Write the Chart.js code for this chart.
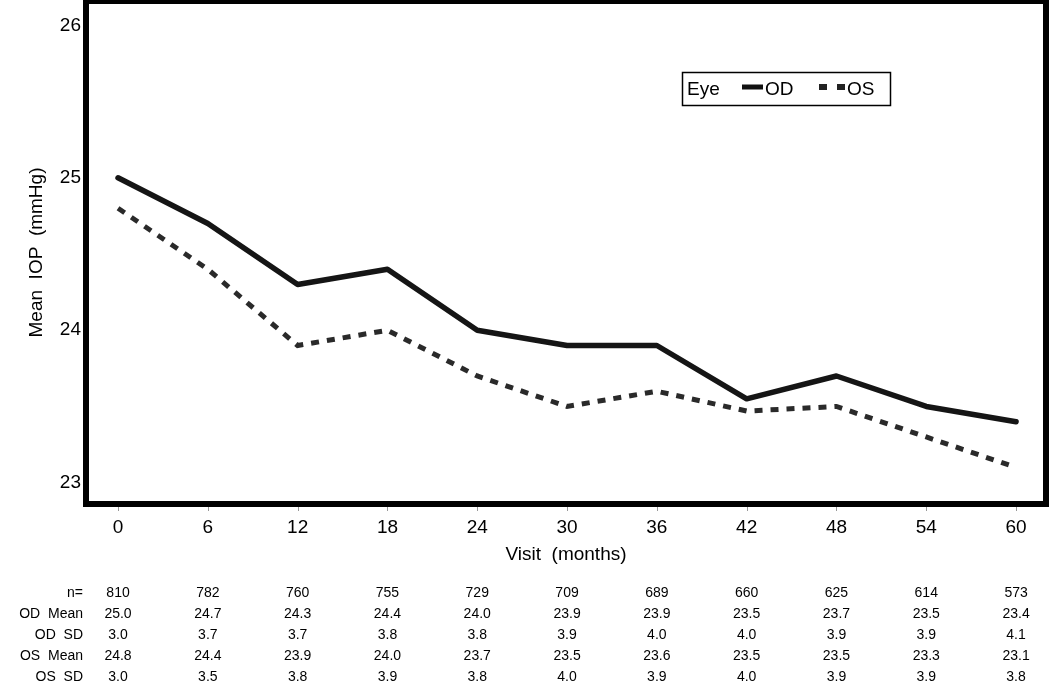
<!DOCTYPE html>
<html>
<head>
<meta charset="utf-8">
<script src="https://cdn.jsdelivr.net/npm/chart.js@4.4.1/dist/chart.umd.min.js"></script>
<style>
  html, body { margin: 0; padding: 0; background: #fff; }
  canvas { display: block; }
</style>
</head>
<body>
<canvas id="c" width="1050" height="700"></canvas>
<script>
// ---- data ----
const visits = [0, 6, 12, 18, 24, 30, 36, 42, 48, 54, 60];
const odMean = [25.0, 24.7, 24.3, 24.4, 24.0, 23.9, 23.9, 23.55, 23.7, 23.5, 23.4];
const osMean = [24.8, 24.4, 23.9, 24.0, 23.7, 23.5, 23.6, 23.47, 23.5, 23.3, 23.1];
const yTicks = [23, 24, 25, 26];

const tableLabels = ['n=', 'OD  Mean', 'OD  SD', 'OS  Mean', 'OS  SD'];
const nRow      = ['810', '782', '760', '755', '729', '709', '689', '660', '625', '614', '573'];
const odMeanRow = ['25.0', '24.7', '24.3', '24.4', '24.0', '23.9', '23.9', '23.5', '23.7', '23.5', '23.4'];
const odSdRow   = ['3.0', '3.7', '3.7', '3.8', '3.8', '3.9', '4.0', '4.0', '3.9', '3.9', '4.1'];
const osMeanRow = ['24.8', '24.4', '23.9', '24.0', '23.7', '23.5', '23.6', '23.5', '23.5', '23.3', '23.1'];
const osSdRow   = ['3.0', '3.5', '3.8', '3.9', '3.8', '4.0', '3.9', '4.0', '3.9', '3.9', '3.8'];
const tableRows = [nRow, odMeanRow, odSdRow, osMeanRow, osSdRow];

const FONT = "'Liberation Sans', Arial, Helvetica, sans-serif";

const overlay = {
  id: 'overlay',
  afterDraw(chart) {
    const ctx = chart.ctx;
    const a = chart.chartArea;
    const xs = chart.scales.x;
    ctx.save();
    // frame
    ctx.strokeStyle = '#000';
    ctx.lineWidth = 6;
    ctx.strokeRect(a.left - 3, a.top - 3, (a.right - a.left) + 6, (a.bottom - a.top) + 6);
    // small x tick marks
    ctx.strokeStyle = '#999';
    ctx.lineWidth = 1;
    visits.forEach(v => {
      const px = Math.round(xs.getPixelForValue(v)) + 0.5;
      ctx.beginPath(); ctx.moveTo(px, a.bottom + 6); ctx.lineTo(px, a.bottom + 10); ctx.stroke();
    });
    // axis titles
    ctx.fillStyle = '#000';
    ctx.font = '19px ' + FONT;
    ctx.textAlign = 'center';
    ctx.textBaseline = 'middle';
    ctx.fillText('Visit  (months)', (a.left + a.right) / 2, 555);
    ctx.save();
    ctx.translate(37, (a.top + a.bottom) / 2);
    ctx.rotate(-Math.PI / 2);
    ctx.fillText('Mean  IOP  (mmHg)', 0, 0);
    ctx.restore();
    // legend
    ctx.strokeStyle = '#000';
    ctx.lineWidth = 1.5;
    ctx.strokeRect(682.5, 72.5, 208, 33);
    ctx.textAlign = 'left';
    ctx.fillText('Eye', 687, 90);
    ctx.lineWidth = 5;
    ctx.strokeStyle = '#111';
    ctx.beginPath(); ctx.moveTo(742, 87); ctx.lineTo(763, 87); ctx.stroke();
    ctx.fillText('OD', 765, 90);
    ctx.fillStyle = '#222';
    ctx.fillRect(819, 84, 8, 6);
    ctx.fillRect(837, 84, 8, 6);
    ctx.fillStyle = '#000';
    ctx.fillText('OS', 847, 90);
    // table
    ctx.font = '14px ' + FONT;
    const rowY = [593, 614, 635, 656, 677];
    tableLabels.forEach((lab, r) => {
      ctx.textAlign = 'right';
      ctx.fillText(lab, 83, rowY[r]);
      ctx.textAlign = 'center';
      tableRows[r].forEach((t, i) => {
        ctx.fillText(t, xs.getPixelForValue(visits[i]), rowY[r]);
      });
    });
    ctx.restore();
  }
};

new Chart(document.getElementById('c'), {
  type: 'line',
  data: {
    datasets: [
      {
        label: 'OD',
        data: visits.map((v, i) => ({ x: v, y: odMean[i] })),
        borderColor: '#151515',
        borderWidth: 5.5,
        pointRadius: 0,
        tension: 0,
        borderCapStyle: 'round',
        borderJoinStyle: 'round'
      },
      {
        label: 'OS',
        data: visits.map((v, i) => ({ x: v, y: osMean[i] })),
        borderColor: '#2a2a2a',
        borderWidth: 5,
        borderDash: [8, 8],
        pointRadius: 0,
        tension: 0
      }
    ]
  },
  options: {
    responsive: false,
    animation: false,
    devicePixelRatio: 1,
    layout: { padding: { left: 0, top: 4, right: 7, bottom: 0 } },
    plugins: { legend: { display: false }, tooltip: { enabled: false } },
    scales: {
      x: {
        type: 'linear',
        min: -1.94,
        max: 61.8,
        afterBuildTicks: s => { s.ticks = visits.map(v => ({ value: v })); },
        afterFit: s => { s.height = 199; s.paddingLeft = 0; s.paddingRight = 0; },
        grid: { display: false, drawTicks: false },
        border: { display: false },
        ticks: { color: '#000', font: { size: 19, family: FONT }, padding: 15, maxRotation: 0, autoSkip: false }
      },
      y: {
        min: 22.88,
        max: 26.14,
        afterBuildTicks: s => { s.ticks = yTicks.map(v => ({ value: v })); },
        afterFit: s => { s.width = 89; s.paddingTop = 0; s.paddingBottom = 0; },
        grid: { display: false, drawTicks: false },
        border: { display: false },
        ticks: { color: '#000', font: { size: 19, family: FONT }, padding: 8 }
      }
    }
  },
  plugins: [overlay]
});
</script>
</body>
</html>
